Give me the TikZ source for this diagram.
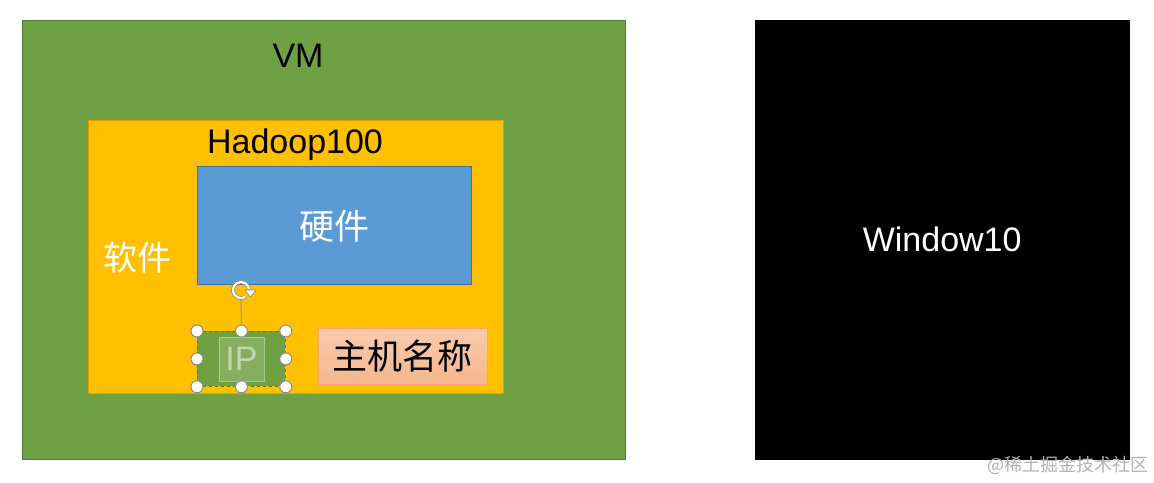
\documentclass[tikz,border=0pt]{standalone}
\usepackage{fontspec}
\setmainfont{Liberation Sans}
\newfontfamily\cjk{Noto Sans CJK SC}
\usetikzlibrary{positioning}
\definecolor{vmgreen}{HTML}{70A044}
\definecolor{vmedge}{HTML}{507E32}
\definecolor{hadoopfill}{HTML}{FFC000}
\definecolor{hadoopedge}{HTML}{D9A000}
\definecolor{hwblue}{HTML}{5B9BD5}
\definecolor{hwedge}{HTML}{41719C}
\definecolor{namefill}{HTML}{F8CBAD}
\definecolor{nameedge}{HTML}{F4B183}
\definecolor{handlegray}{HTML}{8C8C8C}

\begin{document}
\begin{tikzpicture}[x=1pt, y=-1pt,
  box/.style={draw, rectangle, anchor=north west, inner sep=0pt},
  handle/.style={circle, draw=handlegray, fill=white, line width=1pt, minimum size=12pt, inner sep=0pt}]
\useasboundingbox (0,0) rectangle (1154,482);

\node (vm) [box, fill=vmgreen, draw=vmedge, line width=1pt, minimum width=603pt, minimum height=439pt] at (22,20) {};
\node (vmlabel) [font=\fontsize{34}{38}\selectfont] at (298,56) {VM};

\node (hadoop) [box, fill=hadoopfill, draw=hadoopedge, line width=1pt, minimum width=415pt, minimum height=273pt] at (88,120) {};
\node (hadooplabel) [font=\fontsize{34}{38}\selectfont] at (295,145) {Hadoop100};
\node (soft) [text=white, font=\cjk\fontsize{34}{38}\selectfont] at (137,258) {软件};

\node (hw) [box, fill=hwblue, draw=hwedge, line width=1pt, minimum width=274pt, minimum height=118pt] at (197,166) {};
\node (hwlabel) [text=white, font=\cjk\fontsize{35}{38}\selectfont] at (334,226) {硬件};

\node (ip) [box, fill=vmgreen, draw=vmedge, dashed, line width=0.8pt, minimum width=88pt, minimum height=55pt] at (197,331) {};
\node (iplabel) [draw=white, draw opacity=0.4, fill=white, fill opacity=0.15, text=white, text opacity=0.5, minimum width=45pt, minimum height=44pt, inner sep=0pt, font=\fontsize{34}{36}\selectfont] at (ip.center) {IP};

\node (name) [box, top color=namefill, bottom color=nameedge!80!namefill, draw=nameedge!80!orange, line width=0.8pt, minimum width=169pt, minimum height=56pt] at (318,328) {};
\node (namelabel) [font=\cjk\fontsize{35}{38}\selectfont] at (name.center) {主机名称};

% selection handles of the IP box
\coordinate (rot) at (241,290);
\draw[handlegray, line width=0.8pt] (ip.north) -- (241,299);
\draw[white, line width=2.6pt] ([shift={(60:8)}]rot) arc[start angle=60, end angle=350, radius=8];
\draw[handlegray, line width=0.6pt] ([shift={(60:9.6)}]rot) arc[start angle=60, end angle=350, radius=9.6];
\draw[handlegray, line width=0.6pt] ([shift={(60:6.4)}]rot) arc[start angle=60, end angle=350, radius=6.4];
\fill[white, draw=handlegray, line width=0.6pt] (245,290) -- (256,290) -- (250.5,297) -- cycle;
\foreach \a in {north west, north, north east, west, east, south west, south, south east}
  \node[handle] at (ip.\a) {};

\node (win) [box, fill=black, draw=black, minimum width=374pt, minimum height=439pt] at (755,20) {};
\node (winlabel) [text=white, font=\fontsize{34}{38}\selectfont] at (win.center) {Window10};

\node (mark) [text=black!30, font=\cjk\fontsize{18}{20}\selectfont] at (1068,465) {@稀土掘金技术社区};
\end{tikzpicture}
\end{document}
